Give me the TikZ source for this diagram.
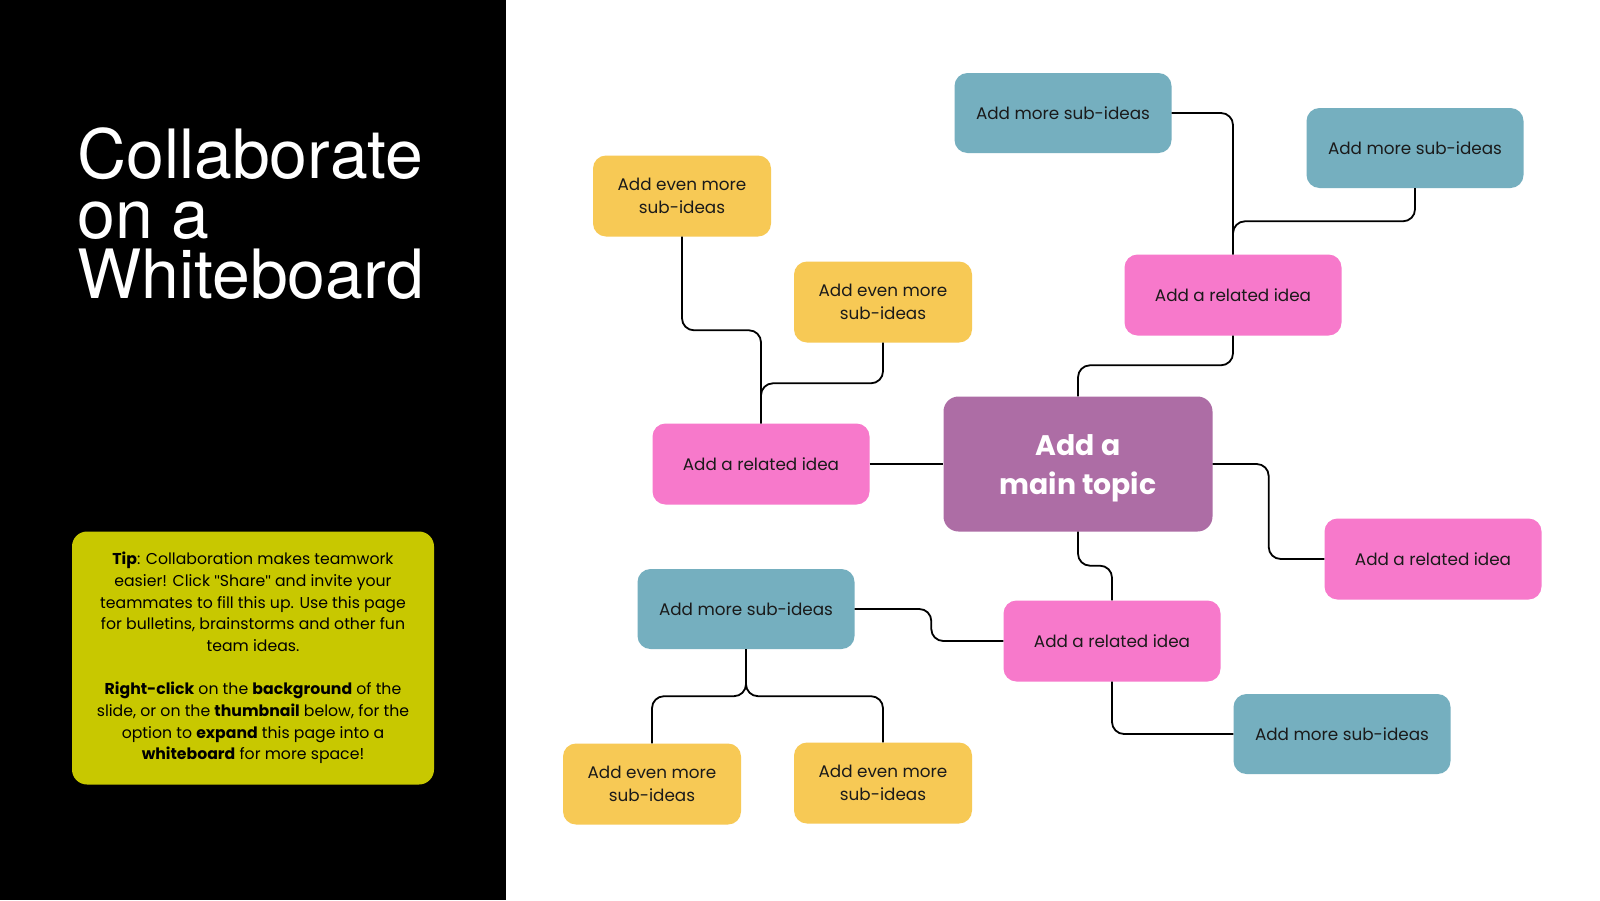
\documentclass[tikz,border=0pt]{standalone}
\usepackage{fontspec}
\setmainfont{Poppins}[Ligatures=ResetAll]
\newfontfamily\titlefont{TeX Gyre Heros}
\newfontfamily\quotefont{Liberation Sans}[Ligatures=ResetAll]
\newcommand\dquote{{\quotefont"}}
\definecolor{ideapink}{HTML}{F779CB}
\definecolor{subteal}{HTML}{75AFBF}
\definecolor{moreyellow}{HTML}{F7C955}
\definecolor{topicpurple}{HTML}{AD6DA5}
\definecolor{tipgreen}{HTML}{C8C800}
\definecolor{textdark}{HTML}{1A1A1A}
\tikzset{
  box/.style={rounded corners=13pt, inner sep=0pt, align=center, text=textdark, font=\fontsize{16.8}{23.5}\selectfont},
  idea/.style={box, fill=ideapink, minimum width=217pt, minimum height=81pt},
  subidea/.style={box, fill=subteal, minimum width=217pt, minimum height=80pt},
  evenmore/.style={box, fill=moreyellow, minimum width=178pt, minimum height=81pt},
  maintopic/.style={box, fill=topicpurple, text=white, rounded corners=15pt, minimum width=269pt, minimum height=135pt, font=\bfseries\fontsize{28.3}{39}\selectfont},
  tipbox/.style={box, fill=tipgreen, text=black, rounded corners=15pt, minimum width=362pt, minimum height=253pt, font=\fontsize{15.7}{21.7}\selectfont},
  link/.style={draw=black, line width=1.8pt, rounded corners=12pt},
}
\begin{document}
\begin{tikzpicture}[x=1pt, y=-1pt]
\useasboundingbox (0,0) rectangle (1600,900);
\fill[white] (0,0) rectangle (1600,900);
\fill[black] (0,0) rectangle (506,900);
\node[anchor=north west, align=left, inner sep=0pt, text=white, font=\titlefont\fontsize{68}{60}\selectfont] (title) at (77,127) {Collaborate\\on a\\Whiteboard};
\node[tipbox] (tip) at (253,658) {\textbf{Tip}: Collaboration makes teamwork\\easier! Click \dquote Share\dquote{} and invite your\\teammates to fill this up. Use this page\\for bulletins, brainstorms and other fun\\team ideas.\\[21.7pt]\textbf{Right-click} on the \textbf{background} of the\\slide, or on the \textbf{thumbnail} below, for the\\option to \textbf{expand} this page into a\\\textbf{whiteboard} for more space!};
\node[maintopic] (main) at (1078,464) {\rule{0pt}{30pt}Add a\\main topic};
\node[idea] (ideaL) at (761,464) {Add a related idea};
\node[idea] (ideaTR) at (1233,295) {Add a related idea};
\node[idea] (ideaR) at (1433,559) {Add a related idea};
\node[idea] (ideaB) at (1112,641) {Add a related idea};
\node[subidea] (subT) at (1063,113) {Add more sub-ideas};
\node[subidea] (subTR) at (1415,148) {Add more sub-ideas};
\node[subidea] (subBL) at (746,609) {Add more sub-ideas};
\node[subidea] (subBR) at (1342,734) {Add more sub-ideas};
\node[evenmore] (moreTL) at (682,196) {Add even more\\sub-ideas};
\node[evenmore] (moreM) at (883,302) {Add even more\\sub-ideas};
\node[evenmore] (moreBL) at (652,784) {Add even more\\sub-ideas};
\node[evenmore] (moreBR) at (883,783) {Add even more\\sub-ideas};
\draw[link] (ideaL.east) -- (main.west);
\draw[link] (moreTL.south) |- ([yshift=93pt]ideaL.north) -- (ideaL.north);
\draw[link] (moreM.south) |- ([yshift=40pt]ideaL.north) -- (ideaL.north);
\draw[link] (main.north) -- ([yshift=31pt]main.north) -| (ideaTR.south);
\draw[link] (ideaTR.north) |- (subT.east);
\draw[link] (subTR.south) |- ([yshift=33pt]ideaTR.north) -- (ideaTR.north);
\draw[link] (main.east) -- ([xshift=56pt]main.east) |- (ideaR.west);
\draw[link] (main.south) -- ([yshift=-34pt]main.south) -| (ideaB.north);
\draw[link] (ideaB.west) -- ([xshift=-72pt]ideaB.west) |- (subBL.east);
\draw[link] (ideaB.south) |- (subBR.west);
\draw[link] (subBL.south) -- ([yshift=-47pt]subBL.south) -| (moreBL.north);
\draw[link] (subBL.south) -- ([yshift=-47pt]subBL.south) -| (moreBR.north);
\end{tikzpicture}
\end{document}
